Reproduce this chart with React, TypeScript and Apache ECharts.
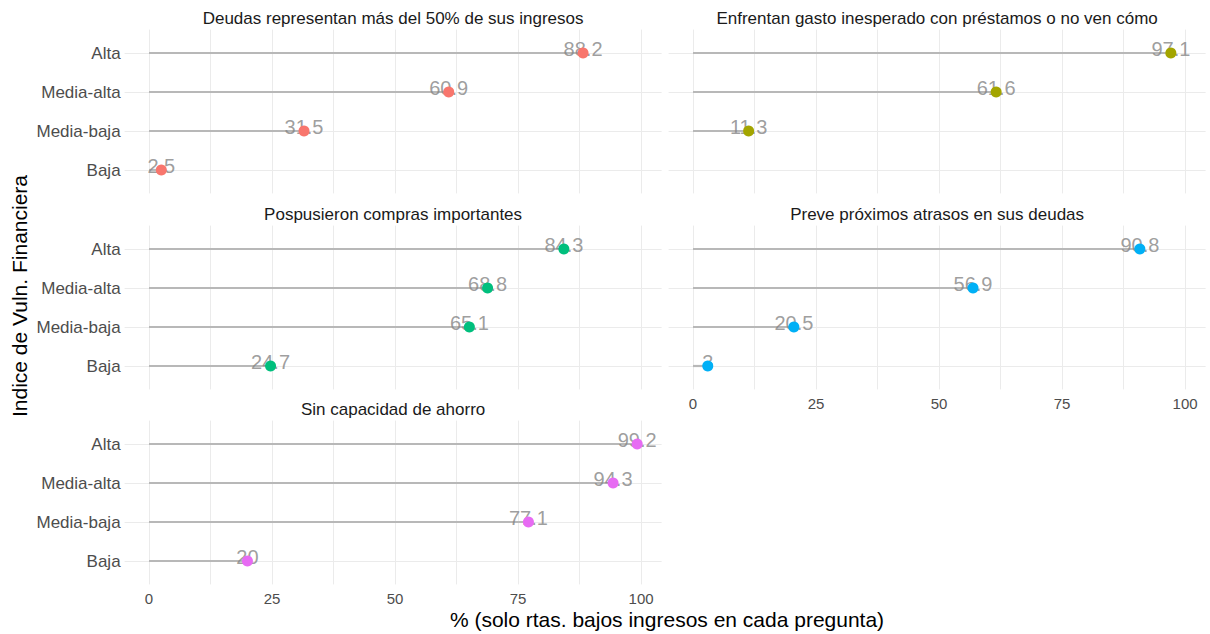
import React, { useEffect, useRef } from "react";
import * as echarts from "echarts";

// Categories (bottom to top)
const levels = ["Baja", "Media-baja", "Media-alta", "Alta"];

const panelTitles = [
  "Deudas representan más del 50% de sus ingresos",
  "Enfrentan gasto inesperado con préstamos o no ven cómo",
  "Pospusieron compras importantes",
  "Preve próximos atrasos en sus deudas",
  "Sin capacidad de ahorro",
];

// Values in order: Baja, Media-baja, Media-alta, Alta
const deudas50 = [2.5, 31.5, 60.9, 88.2];
const gastoInesperado = [null, 11.3, 61.6, 97.1];
const pospusieron = [24.7, 65.1, 68.8, 84.3];
const atrasos = [3, 20.5, 56.9, 90.8];
const sinAhorro = [20, 77.1, 94.3, 99.2];

const panelValues = [deudas50, gastoInesperado, pospusieron, atrasos, sinAhorro];
const panelColors = ["#F8766D", "#A3A500", "#00BF7D", "#00B0F6", "#E76BF3"];

const xTickLabels = [0, 25, 50, 75, 100];
const xGridValues = [0, 12.5, 25, 37.5, 50, 62.5, 75, 87.5, 100];
const yTickValues = [0, 1, 2, 3];

const xAxisTitle = "% (solo rtas. bajos ingresos en cada pregunta)";
const yAxisTitle = "Indice de Vuln. Financiera";

const FONT = "'Liberation Sans', Arial, Helvetica, sans-serif";

export default function App() {
  const ref = useRef<HTMLDivElement>(null);

  useEffect(() => {
    document.body.style.margin = "0";
    if (!ref.current) return;
    const chart = echarts.init(ref.current, undefined, { renderer: "svg" });

    const allVals = panelValues.flat().filter((v) => v != null) as number[];
    const dataMax = Math.max(...allVals);
    const pad = (dataMax - 0) * 0.05;
    const xMin = 0 - pad;
    const xMax = dataMax + pad;

    const colLeft = [124.6, 668.6];
    const panelW = 537;
    const rowTop = [29.6, 225.6, 420.6];
    const panelH = 163.8;

    const grids: any[] = [];
    const xAxes: any[] = [];
    const yAxes: any[] = [];
    const series: any[] = [];
    const graphics: any[] = [];

    panelValues.forEach((vals, i) => {
      const row = Math.floor(i / 2);
      const col = i % 2;
      grids.push({
        left: colLeft[col],
        top: rowTop[row],
        width: panelW,
        height: panelH,
        containLabel: false,
      });
      const showX = i === 3 || i === 4;
      xAxes.push({
        type: "value",
        gridIndex: i,
        min: xMin,
        max: xMax,
        axisLine: { show: false },
        axisTick: { show: false, customValues: xGridValues },
        axisLabel: {
          show: showX,
          customValues: xTickLabels,
          color: "#4d4d4d",
          fontSize: 15,
          fontFamily: FONT,
          margin: 7,
        },
        splitLine: { show: true, lineStyle: { color: "#ebebeb", width: 1 } },
      });
      yAxes.push({
        type: "value",
        gridIndex: i,
        min: -0.6,
        max: 3.6,
        axisLine: { show: false },
        axisTick: { show: false, customValues: yTickValues },
        axisLabel: {
          show: col === 0,
          customValues: yTickValues,
          formatter: (v: number) => levels[Math.round(v)] ?? "",
          color: "#4d4d4d",
          fontSize: 17,
          fontFamily: FONT,
          margin: 4,
        },
        splitLine: { show: true, lineStyle: { color: "#ebebeb", width: 1 } },
      });

      const pts = vals
        .map((v, k) => (v == null ? null : [v, k]))
        .filter((p) => p != null);

      series.push({
        type: "custom",
        xAxisIndex: i,
        yAxisIndex: i,
        data: pts,
        encode: { x: 0, y: 1 },
        z: 1,
        silent: true,
        renderItem: (params: any, api: any) => {
          const v = api.value(0);
          const k = api.value(1);
          const p0 = api.coord([0, k]);
          const p1 = api.coord([v, k]);
          return {
            type: "line",
            shape: { x1: p0[0], y1: p0[1], x2: p1[0], y2: p1[1] },
            style: { stroke: "#b8b8b8", lineWidth: 2.2 },
          };
        },
      });
      series.push({
        type: "scatter",
        xAxisIndex: i,
        yAxisIndex: i,
        data: pts,
        symbolSize: 0,
        z: 2,
        silent: true,
        label: {
          show: true,
          position: "inside",
          offset: [0, -4],
          formatter: (p: any) => String(p.value[0]),
          fontSize: 20,
          fontFamily: FONT,
          color: "#858585",
        },
      });
      series.push({
        type: "scatter",
        xAxisIndex: i,
        yAxisIndex: i,
        data: pts,
        symbol: "circle",
        symbolSize: 11,
        z: 3,
        silent: true,
        itemStyle: { color: panelColors[i], opacity: 1 },
      });

      graphics.push({
        type: "text",
        x: colLeft[col] + panelW / 2,
        y: rowTop[row] - 11,
        style: {
          text: panelTitles[i],
          textAlign: "center",
          textVerticalAlign: "middle",
          fontSize: 17,
          fontFamily: FONT,
          fill: "#1a1a1a",
        },
      });
    });

    graphics.push({
      type: "text",
      x: 667,
      y: 619,
      style: {
        text: xAxisTitle,
        textAlign: "center",
        textVerticalAlign: "middle",
        fontSize: 21,
        fontFamily: FONT,
        fill: "#000000",
      },
    });
    graphics.push({
      type: "text",
      x: 19,
      y: 296,
      rotation: Math.PI / 2,
      style: {
        text: yAxisTitle,
        textAlign: "center",
        textVerticalAlign: "middle",
        fontSize: 21,
        fontFamily: FONT,
        fill: "#000000",
      },
    });

    chart.setOption({
      animation: false,
      backgroundColor: "#ffffff",
      textStyle: { fontFamily: FONT },
      grid: grids,
      xAxis: xAxes,
      yAxis: yAxes,
      series,
      graphic: graphics,
    });

    return () => chart.dispose();
  }, []);

  return <div ref={ref} style={{ width: 1210, height: 634 }} />;
}
